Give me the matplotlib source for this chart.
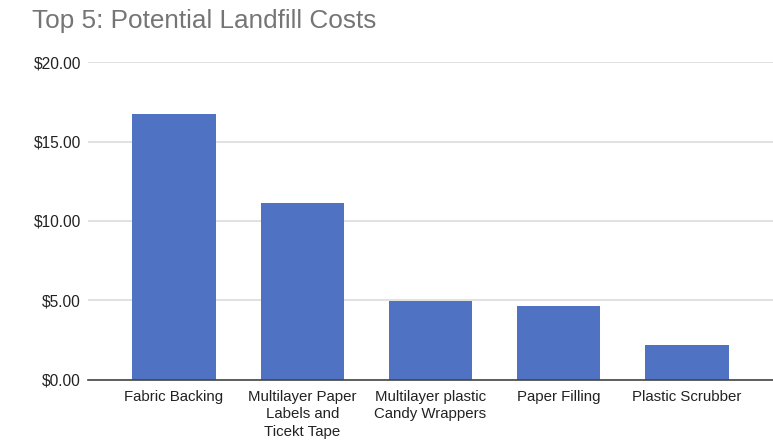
import numpy as np
import matplotlib.pyplot as plt
from matplotlib.ticker import FuncFormatter

plt.rcParams['font.family'] = ['Liberation Sans', 'DejaVu Sans']

categories = ["Fabric Backing", "Multilayer Paper\nLabels and\nTicekt Tape",
              "Multilayer plastic\nCandy Wrappers", "Paper Filling", "Plastic Scrubber"]
costs = [16.75, 11.15, 4.98, 4.68, 2.22]

fig = plt.figure(figsize=(7.73, 4.42), dpi=100)
ax = fig.add_axes([0.1138, 0.1403, 0.8862, 0.7194])

x = np.arange(len(categories))
ax.bar(x, costs, width=0.65, color="#5072C2", zorder=3)

ax.set_ylim(0, 20)
ax.set_xlim(-0.67, 4.67)
ax.set_yticks([0, 5, 10, 15, 20])
ax.yaxis.set_major_formatter(FuncFormatter(lambda v, p: f"${v:.2f}"))
ax.set_xticks(x)
ax.set_xticklabels(categories, fontsize=10.8, color="#222222", linespacing=1.32)

ax.grid(axis="y", color="#dcdcdc", linewidth=1.2, zorder=0)
for s in ["top", "right", "left"]:
    ax.spines[s].set_visible(False)
ax.spines["bottom"].set_color("#444444")
ax.spines["bottom"].set_linewidth(1.2)
ax.spines["bottom"].set_zorder(4)
ax.tick_params(axis="y", length=0, labelsize=11.2, colors="#222222", pad=5)
ax.tick_params(axis="x", length=0, colors="#222222", pad=7)

fig.text(0.042, 0.953, "Top 5: Potential Landfill Costs", fontsize=18.8,
         color="#757575", va="center", ha="left")

fig.savefig("out.png", dpi=100)
